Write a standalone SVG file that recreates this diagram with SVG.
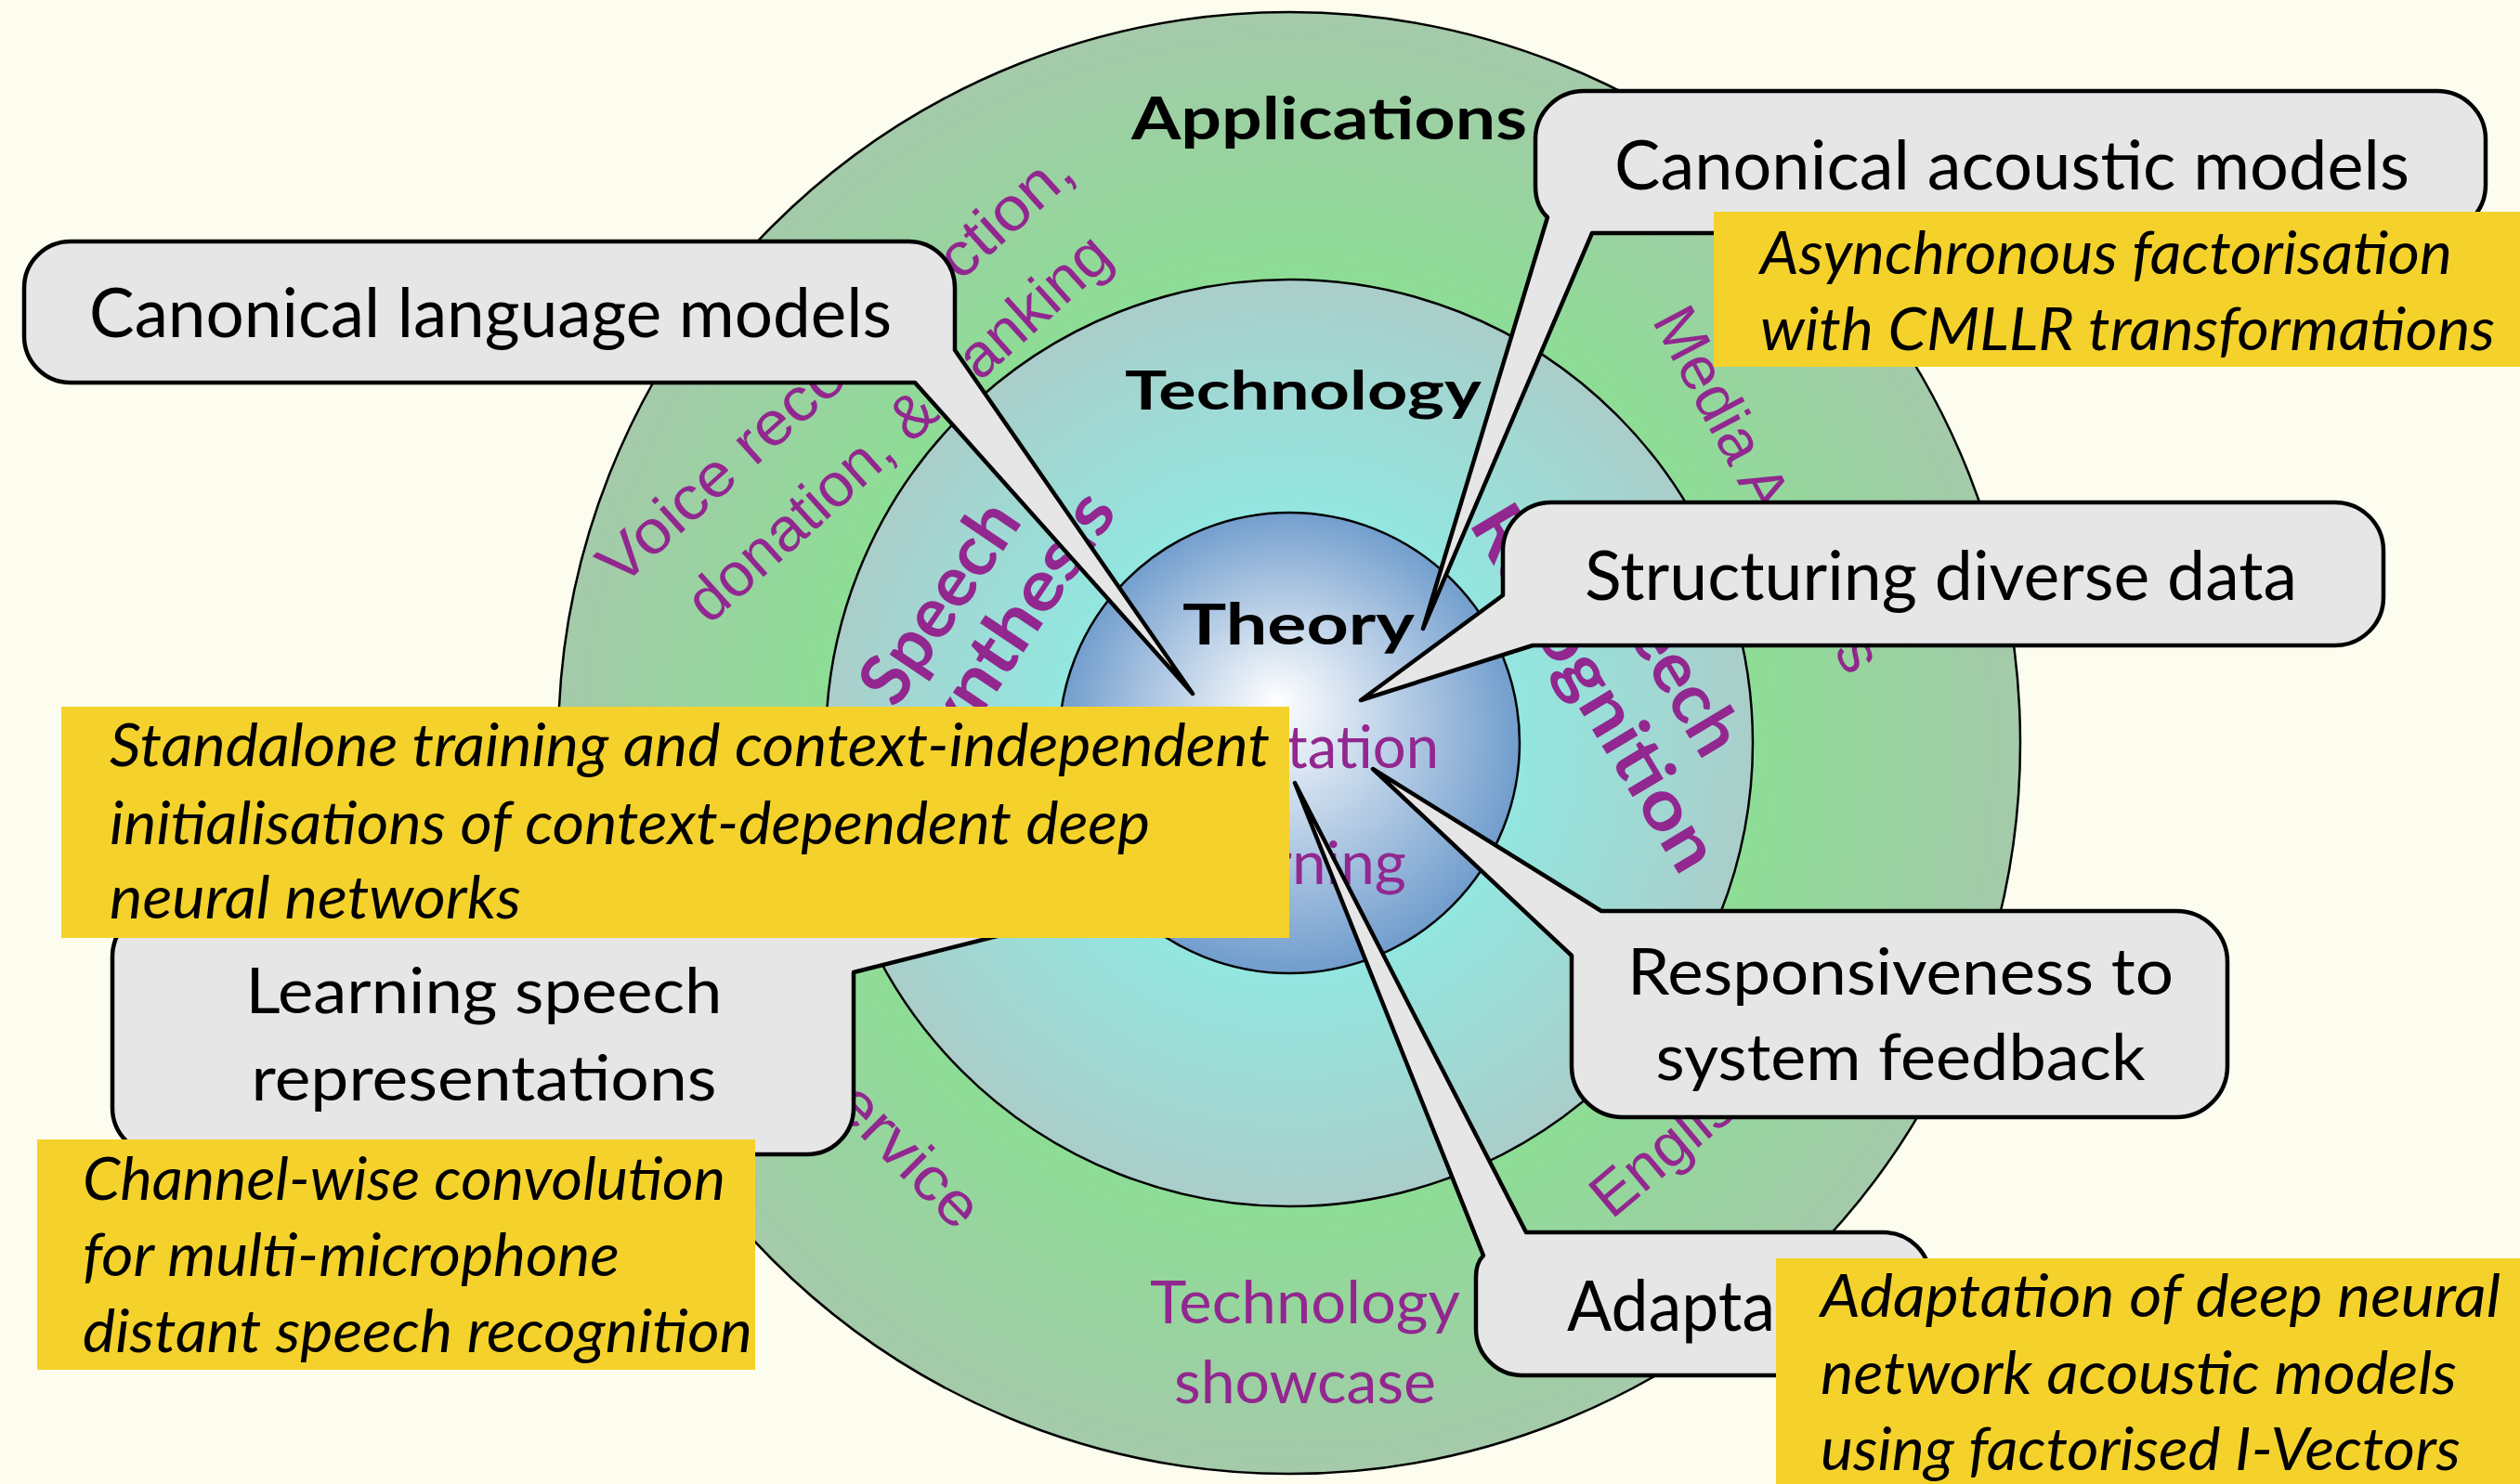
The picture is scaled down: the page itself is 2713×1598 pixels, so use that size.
<svg xmlns="http://www.w3.org/2000/svg" width="2713" height="1598" viewBox="0 0 2713 1598">
<defs>
<radialGradient id="gOuter" gradientUnits="userSpaceOnUse" cx="1388" cy="800" r="787">
<stop offset="0.63" stop-color="#8ddd95"/>
<stop offset="1" stop-color="#a4caaa"/>
</radialGradient>
<radialGradient id="gMid" gradientUnits="userSpaceOnUse" cx="1388" cy="800" r="499">
<stop offset="0.5" stop-color="#93e6e0"/>
<stop offset="1" stop-color="#aaceca"/>
</radialGradient>
<radialGradient id="gInner" gradientUnits="userSpaceOnUse" cx="1388" cy="800" r="260" fx="1375" fy="755">
<stop offset="0" stop-color="#ffffff"/>
<stop offset="1" stop-color="#6b99cb"/>
</radialGradient>
<style>
.ring{stroke:#000;stroke-width:2.5}
.callout{fill:#e6e6e6;stroke:#000;stroke-width:4.5;stroke-linejoin:round}
.note{fill:#f5d22b}
.ct{font-family:Lato,"Liberation Sans",sans-serif;fill:#000}
.nt{font-family:Lato,"Liberation Sans",sans-serif;font-style:italic;font-size:64px;fill:#000}
.lbl{font-family:Lato,"Liberation Sans",sans-serif;font-weight:bold;fill:#000}
.pb{font-family:Lato,"Liberation Sans",sans-serif;font-weight:bold;fill:#92278f;font-size:76px}
.pr{font-family:"Liberation Sans",Lato,sans-serif;fill:#92278f;font-size:66px}
.ph{font-family:Lato,"Liberation Sans",sans-serif;fill:#92278f;font-size:64px}
</style>
</defs>
<rect width="2713" height="1598" fill="#fcfdef"/>

<g id="rings">
<circle id="applications-ring" class="ring" cx="1388" cy="800" r="787" fill="url(#gOuter)"/>
<circle id="technology-ring" class="ring" cx="1388" cy="800" r="499" fill="url(#gMid)"/>
<circle id="theory-ring" class="ring" cx="1388" cy="800" r="248" fill="url(#gInner)"/>
</g>

<g id="ring-labels">
<text class="lbl" x="1431" y="150" font-size="64" text-anchor="middle" textLength="426" lengthAdjust="spacingAndGlyphs">Applications</text>
<text class="lbl" x="1403" y="441" font-size="58" text-anchor="middle" textLength="384" lengthAdjust="spacingAndGlyphs">Technology</text>
<text class="lbl" x="1398" y="694" font-size="62" text-anchor="middle" textLength="250" lengthAdjust="spacingAndGlyphs">Theory</text>

<text class="pr" font-size="68" text-anchor="middle" textLength="663" lengthAdjust="spacingAndGlyphs" transform="translate(914 411.5) rotate(-42)">Voice reconstruction,</text>
<text class="pr" font-size="68" text-anchor="middle" textLength="588" lengthAdjust="spacingAndGlyphs" transform="translate(982 477) rotate(-42)">donation, &amp; banking</text>
<text class="pr" transform="translate(1778 345) rotate(62)">Media A</text>
<text class="pr" transform="translate(1974 700) rotate(62)">s</text>
<text class="pr" font-size="62" transform="translate(1735 1314) rotate(-40)">English</text>
<text class="pr" textLength="191" lengthAdjust="spacingAndGlyphs" transform="translate(895 1192) rotate(45)">ervice</text>
<text class="ph" x="1405" y="1425" text-anchor="middle" textLength="334" lengthAdjust="spacingAndGlyphs">Technology</text>
<text class="ph" x="1405" y="1511" text-anchor="middle" textLength="282" lengthAdjust="spacingAndGlyphs">showcase</text>

<text class="pb" text-anchor="middle" textLength="245" lengthAdjust="spacingAndGlyphs" transform="translate(1033 663) rotate(-56)">Speech</text>
<text class="pb" text-anchor="middle" textLength="355" lengthAdjust="spacingAndGlyphs" transform="translate(1105 698) rotate(-56)">Synthesis</text>
<text class="pb" text-anchor="middle" textLength="245" lengthAdjust="spacingAndGlyphs" transform="translate(1771 715) rotate(59)">Speech</text>
<text class="pb" text-anchor="middle" textLength="445" lengthAdjust="spacingAndGlyphs" transform="translate(1695 754) rotate(59)">Recognition</text>

<text class="ph" x="1385" y="827" textLength="164" lengthAdjust="spacingAndGlyphs">tation</text>
<text class="ph" x="1367" y="952" textLength="147" lengthAdjust="spacingAndGlyphs">rning</text>
</g>

<g id="connectors">
</g>

<g id="canonical-language-models">
<path class="callout" d="M76 260 H978 A50 50 0 0 1 1028 310 V377 L1284 747 L985 412 H76 A50 50 0 0 1 26 362 V310 A50 50 0 0 1 76 260 Z"/>
<text class="ct" x="96" y="363" font-size="74" textLength="864" lengthAdjust="spacingAndGlyphs">Canonical language models</text>
</g>

<g id="canonical-acoustic-models">
<path class="callout" d="M1705 98 H2624 A52 52 0 0 1 2676 150 V199 A52 52 0 0 1 2624 251 H1714 L1532 677 L1666 234 Q1653 222 1653 200 V150 A52 52 0 0 1 1705 98 Z"/>
<text class="ct" x="1738" y="204" font-size="74" textLength="856" lengthAdjust="spacingAndGlyphs">Canonical acoustic models</text>
</g>

<g id="structuring-diverse-data">
<path class="callout" d="M1670 541 H2514 A52 52 0 0 1 2566 593 V643 A52 52 0 0 1 2514 695 H1650 L1465 754 L1618 641 V593 A52 52 0 0 1 1670 541 Z"/>
<text class="ct" x="1706" y="646" font-size="74" textLength="767" lengthAdjust="spacingAndGlyphs">Structuring diverse data</text>
</g>

<g id="responsiveness">
<path class="callout" d="M1724 981 H2343 A55 55 0 0 1 2398 1036 V1148 A55 55 0 0 1 2343 1203 H1747 A55 55 0 0 1 1692 1148 V1029 L1478 828 Z"/>
<text class="ct" x="2046" y="1071" font-size="70" text-anchor="middle" textLength="588" lengthAdjust="spacingAndGlyphs">Responsiveness to</text>
<text class="ct" x="2046" y="1163" font-size="70" text-anchor="middle" textLength="527" lengthAdjust="spacingAndGlyphs">system feedback</text>
</g>

<g id="adaptation">
<path class="callout" d="M1643 1327 H2028 A50 50 0 0 1 2078 1377 V1431 A50 50 0 0 1 2028 1481 H1639 A50 50 0 0 1 1589 1431 V1375 Q1589 1360 1597 1352 L1394 843 Z"/>
<text class="ct" x="1687" y="1433" font-size="76" textLength="224" lengthAdjust="spacingAndGlyphs">Adapta</text>
</g>

<g id="learning-speech-representations">
<path class="callout" d="M171 980 H860 L1375 932 L919 1047 V1193 A50 50 0 0 1 869 1243 H171 A50 50 0 0 1 121 1193 V1030 A50 50 0 0 1 171 980 Z"/>
<text class="ct" x="521" y="1091" font-size="68" text-anchor="middle" textLength="513" lengthAdjust="spacingAndGlyphs">Learning speech</text>
<text class="ct" x="521" y="1185" font-size="68" text-anchor="middle" textLength="501" lengthAdjust="spacingAndGlyphs">representations</text>
</g>

<g id="note-asynchronous">
<rect class="note" x="1845" y="228" width="868" height="167"/>
<text class="nt" x="1895" y="295" textLength="745" lengthAdjust="spacingAndGlyphs">Asynchronous factorisation</text>
<text class="nt" x="1895" y="377" textLength="791" lengthAdjust="spacingAndGlyphs">with CMLLR transformations</text>
</g>

<g id="note-standalone">
<rect class="note" x="66" y="761" width="1322" height="249"/>
<text class="nt" x="118" y="825" textLength="1249" lengthAdjust="spacingAndGlyphs">Standalone training and context-independent</text>
<text class="nt" x="118" y="909" textLength="1120" lengthAdjust="spacingAndGlyphs">initialisations of context-dependent deep</text>
<text class="nt" x="118" y="989" textLength="443" lengthAdjust="spacingAndGlyphs">neural networks</text>
</g>

<g id="note-channel-wise">
<rect class="note" x="40" y="1227" width="773" height="248"/>
<text class="nt" x="89" y="1292" textLength="692" lengthAdjust="spacingAndGlyphs">Channel-wise convolution</text>
<text class="nt" x="89" y="1374" textLength="578" lengthAdjust="spacingAndGlyphs">for multi-microphone</text>
<text class="nt" x="89" y="1456" textLength="721" lengthAdjust="spacingAndGlyphs">distant speech recognition</text>
</g>

<g id="note-adaptation-dnn">
<rect class="note" x="1912" y="1355" width="801" height="243"/>
<text class="nt" x="1960" y="1418" textLength="732" lengthAdjust="spacingAndGlyphs">Adaptation of deep neural</text>
<text class="nt" x="1960" y="1501" textLength="685" lengthAdjust="spacingAndGlyphs">network acoustic models</text>
<text class="nt" x="1960" y="1583" textLength="689" lengthAdjust="spacingAndGlyphs">using factorised I-Vectors</text>
</g>
</svg>
